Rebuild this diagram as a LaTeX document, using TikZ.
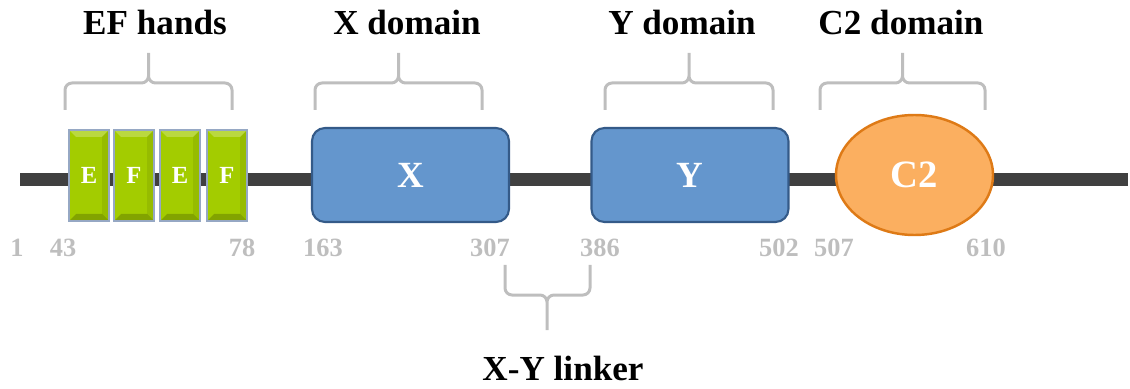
\documentclass[tikz,border=0pt]{standalone}
\usepackage{fontspec}
\setmainfont{Liberation Serif}
\usetikzlibrary{shapes.geometric}

\definecolor{backbone}{RGB}{64,64,64}
\definecolor{efgreen}{RGB}{163,204,0}
\definecolor{efedge}{RGB}{150,168,196}
\definecolor{domblue}{RGB}{100,150,205}
\definecolor{domedge}{RGB}{52,90,136}
\definecolor{c2orange}{RGB}{251,175,96}
\definecolor{c2edge}{RGB}{222,122,22}
\definecolor{labelgray}{RGB}{190,190,190}

% bevelled edges on the small boxes
\tikzset{bevel/.style={path picture={
  \fill[white,opacity=.25] (path picture bounding box.north west) -- (path picture bounding box.north east) -- ([shift={(-1.4mm,-1.4mm)}]path picture bounding box.north east) -- ([shift={(1.4mm,-1.4mm)}]path picture bounding box.north west) -- cycle;
  \fill[black,opacity=.2] (path picture bounding box.south west) -- (path picture bounding box.south east) -- ([shift={(-1.4mm,1.4mm)}]path picture bounding box.south east) -- ([shift={(1.4mm,1.4mm)}]path picture bounding box.south west) -- cycle;
  \fill[black,opacity=.08] (path picture bounding box.north east) -- (path picture bounding box.south east) -- ([shift={(-1.4mm,1.4mm)}]path picture bounding box.south east) -- ([shift={(-1.4mm,-1.4mm)}]path picture bounding box.north east) -- cycle;}}}

\begin{document}
\begin{tikzpicture}[x=0.2mm, y=-0.2mm, chain/.style={line width=2.6mm, backbone}, bracket/.style={labelgray, line width=0.6mm, rounded corners=1.4mm}, efbox/.style={draw=efedge, line width=0.8pt, fill=efgreen, bevel, inner sep=0pt, minimum width=8mm, minimum height=18.2mm, text=white, font=\bfseries\fontsize{14}{16}\selectfont}, dombox/.style={draw=domedge, line width=1.2pt, fill=domblue, rounded corners=2.6mm, minimum width=39.4mm, minimum height=18.8mm, text=white, font=\bfseries\fontsize{21}{24}\selectfont}, c2dom/.style={ellipse, draw=c2edge, line width=1.4pt, fill=c2orange, inner sep=0pt, minimum width=31.4mm, minimum height=24mm, text=white, font=\bfseries\fontsize{22}{24}\selectfont}, resnum/.style={labelgray, anchor=base, font=\bfseries\fontsize{15}{18}\selectfont}, title/.style={anchor=base, font=\bfseries\fontsize{20}{24}\selectfont}]
\useasboundingbox (0,0) rectangle (1130,389);
\coordinate (nterm) at (20,180); \coordinate (cterm) at (1128,180);
\draw[chain] (nterm) -- (cterm);
\foreach \x/\l [count=\i] in {89/E,134/F,180/E,227/F} \node[efbox] (ef\i) at (\x,175.5) {\l};
\node[dombox] (xdom) at (410.5,175) {X};
\node[dombox] (ydom) at (690,175) {Y};
\node[c2dom] (c2) at (914.5,175) {C2};
\foreach \n/\x in {1/17,43/63,78/242,163/323,307/490,386/600,502/779,507/834,610/986} \node[resnum] (n\n) at (\x,257) {\n};
\foreach \l/\r/\lx/\nm/\lab in {65/232/155/ef/EF hands, 315/482/407/x/X domain, 605/773/682/y/Y domain, 820/985/901/c2/C2 domain} {
  \pgfmathsetmacro\m{(\l+\r)/2}
  \draw[bracket] (\l,110) -- (\l,83) -- (\m,83) -- (\m,53) (\r,110) -- (\r,83) -- (\m,83) -- (\m,53);
  \node[title] (t\nm) at (\lx,35) {\lab};
}
\draw[bracket] (505,265) -- (505,295) -- (547,295) -- (547,330) (590,265) -- (590,295) -- (547,295) -- (547,330);
\node[title] (tlinker) at (563,380) {X-Y linker};
\end{tikzpicture}
\end{document}
